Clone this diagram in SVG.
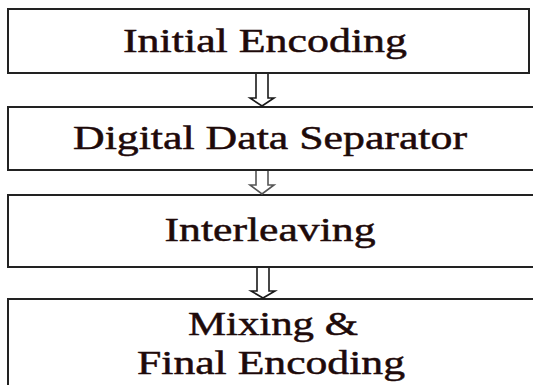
<svg xmlns="http://www.w3.org/2000/svg" width="533" height="385" viewBox="0 0 533 385">
  <style>
    .box { fill: #ffffff; stroke: #222222; stroke-width: 2; }
    .arrow { fill: #ffffff; stroke: #1a1a1a; stroke-width: 1.6; stroke-linejoin: miter; }
    .arrow.soft { stroke: #555555; }
    .label { font-family: "Liberation Serif", "Times New Roman", serif; font-size: 34px; fill: #1e0a0a; stroke: #1e0a0a; stroke-width: 0.5; text-anchor: middle; }
  </style>
  <rect width="533" height="385" fill="#ffffff"/>

  <g id="initial-encoding">
    <rect class="box" x="8" y="9" width="521" height="64"/>
    <text class="label" x="265" y="52" textLength="284" lengthAdjust="spacingAndGlyphs">Initial Encoding</text>
  </g>

  <g id="digital-data-separator">
    <rect class="box" x="8" y="107" width="540" height="63"/>
    <text class="label" x="270" y="149" textLength="394" lengthAdjust="spacingAndGlyphs">Digital Data Separator</text>
  </g>

  <g id="interleaving">
    <rect class="box" x="8" y="195" width="540" height="72"/>
    <text class="label" x="270" y="241" textLength="211" lengthAdjust="spacingAndGlyphs">Interleaving</text>
  </g>

  <g id="mixing-final-encoding">
    <rect class="box" x="8" y="299" width="540" height="100"/>
    <text class="label" x="273" y="335" textLength="170" lengthAdjust="spacingAndGlyphs">Mixing &amp;</text>
    <text class="label" x="271" y="374" textLength="268" lengthAdjust="spacingAndGlyphs">Final Encoding</text>
  </g>

  <g id="connectors">
    <path class="arrow" d="M256,74 V98 H250 L262,106 L274,98 H268 V74"/>
    <path class="arrow soft" d="M256,171 V185 H250 L262,194 L274,185 H268 V171"/>
    <path class="arrow" d="M257,268 V291 H251 L263,298 L275,291 H269 V268"/>
  </g>
</svg>
